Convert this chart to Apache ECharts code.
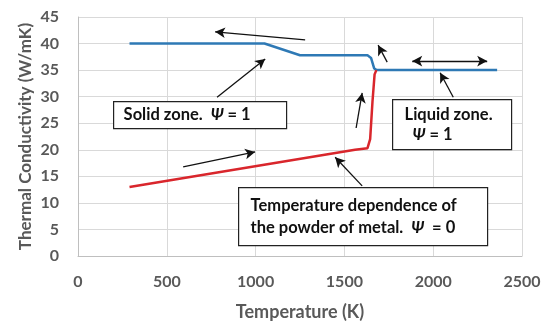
<!DOCTYPE html>
<html><head><meta charset="utf-8">
<script src="https://cdn.jsdelivr.net/npm/echarts@6/dist/echarts.min.js"></script>
<style>html,body{margin:0;padding:0;background:#fff}#c{width:550px;height:324px}</style>
</head><body><div id="c"></div>
<script>
const xTicks = [0, 500, 1000, 1500, 2000, 2500];
const yTicks = [0, 5, 10, 15, 20, 25, 30, 35, 40, 45];
const solidT = [290, 1050, 1250, 1630, 1650, 1668, 1682, 2360];
const solidK = [40, 40, 37.8, 37.8, 37.3, 35.3, 35, 35];
const powderT = [290, 1560, 1630, 1645, 1658, 1670, 1680];
const powderK = [13, 20, 20.3, 22, 29, 34.2, 35];
// annotation arrows
const arrowsFrom = [[1279,40.7],[1741,36.5],[1882,36.7],[783,29.9],[2113,29.9],[1566,24.1],[592,16.8],[1600,13.2]];
const arrowsTo   = [[772,42.2],[1690,39.7],[2304,36.7],[1054,37.1],[2039,34.5],[1600,30.7],[997,19.6],[1448,18.6]];
const arrowsDouble = [false,false,true,false,false,false,false,false];

const pair = (xs, ys) => xs.map((x, i) => [x, ys[i]]);
const FONT = 'Lato';
const GREY = '#595959';
const chart = echarts.init(document.getElementById('c'), null, {renderer: 'canvas'});

const arrowData = arrowsFrom.map((f, i) => [
  {coord: f, symbol: arrowsDouble[i] ? 'arrow' : 'none'},
  {coord: arrowsTo[i], symbol: 'arrow'}
]);

const BF = 16.5;
const psi = {fontStyle: 'italic', fontWeight: 'bold', fontSize: BF, fontFamily: FONT, fill: '#111'};
const norm = {fontWeight: 'bold', fontSize: BF, fontFamily: FONT, fill: '#111'};

function box(x, y, w, h, padL, lh, text) {
  return {
    type: 'group', left: x, top: y, z: 100, children: [
      {type: 'rect', z: 100, shape: {x: 0, y: 0, width: w, height: h}, style: {fill: '#fff', stroke: '#222', lineWidth: 1.2}},
      {type: 'text', z: 101, x: padL, y: h / 2, style: {text: text, rich: {n: Object.assign({lineHeight: lh}, norm), p: Object.assign({lineHeight: lh}, psi)},
        font: 'bold ' + BF + 'px ' + FONT, fill: '#111', verticalAlign: 'middle', lineHeight: lh}}
    ]
  };
}

chart.setOption({
  animation: false,
  grid: {left: 78, right: 28, top: 17, bottom: 68, containLabel: false, outerBoundsMode: 'none'},
  xAxis: {
    type: 'value', min: 0, max: 2500, interval: 500,
    name: 'Temperature (K)', nameLocation: 'middle', nameGap: 47, nameMoveOverlap: false,
    nameTextStyle: {fontFamily: FONT, fontWeight: 'bold', fontSize: 18, color: GREY},
    axisLine: {show: true, lineStyle: {color: '#bfbfbf'}},
    axisTick: {show: false},
    axisLabel: {fontFamily: FONT, fontWeight: 'bold', fontSize: 16, color: GREY, margin: 18,
      formatter: v => xTicks.includes(v) ? String(v) : ''},
    splitLine: {show: true, lineStyle: {color: '#d9d9d9'}}
  },
  yAxis: {
    type: 'value', min: 0, max: 45, interval: 5,
    name: 'Thermal Conductivity (W/mK)', nameLocation: 'middle', nameGap: 44, nameMoveOverlap: false,
    nameTextStyle: {fontFamily: FONT, fontWeight: 'bold', fontSize: 17, color: GREY},
    axisLine: {show: true, lineStyle: {color: '#bfbfbf'}},
    axisTick: {show: false},
    axisLabel: {fontFamily: FONT, fontWeight: 'bold', fontSize: 16, color: GREY, margin: 19,
      formatter: v => yTicks.includes(v) ? String(v) : ''},
    splitLine: {show: true, lineStyle: {color: '#d9d9d9'}}
  },
  series: [
    {type: 'line', data: pair(solidT, solidK), showSymbol: false, symbol: 'none',
     lineStyle: {color: '#2E79B5', width: 2.5}, z: 3},
    {type: 'line', data: pair(powderT, powderK), showSymbol: false, symbol: 'none',
     lineStyle: {color: '#D9262C', width: 2.5}, z: 4},
    {type: 'line', data: [], z: 5,
     markLine: {silent: true, symbolSize: [8, 10], label: {show: false},
       lineStyle: {color: '#111', width: 1.3, type: 'solid'}, data: arrowData}}
  ],
  graphic: [
    box(113, 101, 173, 27, 10, 20, '{n|Solid zone.  }{p|Ψ}{n| = 1}'),
    box(392, 99, 119, 50, 12, 20, '{n|Liquid zone.}\n{n|  }{p|Ψ}{n| = 1}'),
    box(238, 187, 249, 58, 12, 22, '{n|Temperature dependence of}\n{n|the powder of metal.  }{p|Ψ}{n|  = 0}')
  ]
});
</script></body></html>
